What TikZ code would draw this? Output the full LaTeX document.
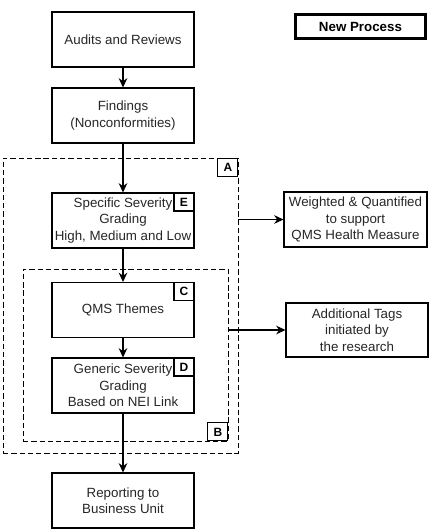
\documentclass[tikz,border=0pt]{standalone}
\usepackage{fontspec}
\setmainfont{Liberation Sans}
\usetikzlibrary{arrows.meta}

\tikzset{
    step box/.style={draw, line width=0.8pt, text=black!85, align=center,
        minimum width=106.5pt, minimum height=41.25pt, inner sep=1pt,
        font=\fontsize{10}{12.4}\selectfont},
    tag box/.style={draw, line width=0.8pt, fill=white, minimum width=15pt,
        minimum height=13.5pt, inner sep=0pt, font=\fontsize{9}{10}\selectfont\bfseries},
    frame/.style={draw, dashed, dash pattern=on 4pt off 2.2pt, line width=0.7pt,
        inner sep=0pt},
    flow/.style={-{Stealth[length=7pt,width=6.5pt]}, line width=0.8pt}
}

\begin{document}
\begin{tikzpicture}[x=0.75pt, y=-0.75pt]
        \useasboundingbox (0,0) rectangle (431,529);

        % Dashed frames around the grading steps
        \node[frame, minimum width=176.25pt, minimum height=221.25pt] (frameA) at (120.5, 305.5) {};
        \node[frame, minimum width=153.75pt, minimum height=129pt] (frameB) at (125.5, 355) {};

        % Main flow of boxes
        \node[step box] (audits) at (123, 39.5) {Audits and Reviews};
        \node[step box] (findings) at (123, 115.5) {Findings\\(Nonconformities)};
        \node[step box] (specific) at (123, 220.5) {Specific Severity\\Grading\\High, Medium and Low};
        \node[step box] (themes) at (123, 310) {QMS Themes};
        \node[step box] (generic) at (123, 385.5) {Generic Severity\\Grading\\Based on NEI Link};
        \node[step box] (reporting) at (123, 500.5) {Reporting to\\Business Unit};

        % Boxes on the right
        \node[step box, minimum width=107.25pt] (weighted) at (355.5, 219.5) {Weighted \& Quantified\\to support\\QMS Health Measure};
        \node[step box, minimum height=40.5pt] (tags) at (357, 330) {Additional Tags\\initiated by\\the research};
        \node[draw, line width=2.25pt, minimum width=97.5pt, minimum height=18pt, inner sep=0pt,
            font=\fontsize{10}{12}\selectfont\bfseries] (legend) at (360.5, 26.5) {New Process};

        % Letter tags in the corners
        \node[tag box, anchor=north east] (tagA) at (frameA.north east) {A};
        \node[tag box, anchor=south east] (tagB) at (frameB.south east) {B};
        \node[tag box, anchor=north east] (tagC) at (themes.north east) {C};
        \node[tag box, anchor=north east] (tagD) at (generic.north east) {D};
        \node[tag box, anchor=north east] (tagE) at (specific.north east) {E};

        % Draw the arrows between the boxes
        \draw[flow] (audits) -- (findings);
        \draw[flow] (findings) -- (specific);
        \draw[flow] (specific) -- (themes);
        \draw[flow] (themes) -- (generic);
        \draw[flow] (generic) -- (reporting);

        % Arrows from the frames to the right boxes
        \draw[flow] (frameA.east |- weighted.west) -- (weighted.west);
        \draw[flow] (frameB.east |- tags.west) -- (tags.west);
    \end{tikzpicture}
\end{document}
